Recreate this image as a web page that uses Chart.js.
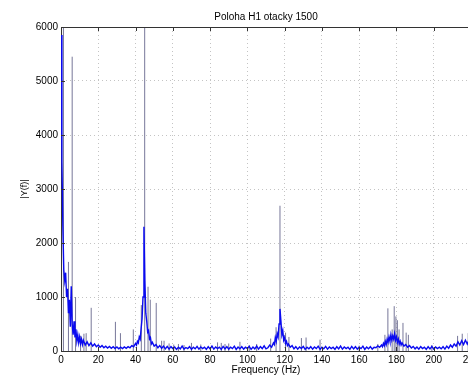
<!DOCTYPE html>
<html>
<head>
<meta charset="utf-8">
<script src="https://cdn.jsdelivr.net/npm/chart.js@4"></script>
<style>
	html, body { margin: 0; padding: 0; background: #fff; overflow: hidden; }
	#wrap { width: 490px; height: 375px; }
</style>
</head>
<body>
<div id="wrap"><canvas id="spectrumChart"></canvas></div>
<script>
// noise floor of the spectrum, frequency (Hz) and |Y(f)|
const floorHz = [
	0, 0.5, 1, 1.5, 2, 2.5, 3, 3.5, 4, 4.5, 5, 5.5, 6, 6.5, 7, 7.5, 8, 8.5, 9, 9.5, 10, 10.5, 11, 11.5, 12,
	13, 14, 15, 16, 17, 18, 19, 20, 21, 22, 23, 24, 25, 26, 27, 28, 29, 30, 31, 32, 33, 34, 35, 36, 37, 38, 39, 40,
	40.5, 41, 41.5, 42, 42.5, 43, 43.5, 44, 44.5, 45, 45.5, 46, 46.5, 47, 47.5, 48, 48.5, 49,
	50, 51, 52, 53, 54, 55, 56, 57, 58, 59, 60, 61, 62, 63, 64, 65, 66, 67, 68, 69, 70, 71, 72, 73, 74, 75, 76, 77, 78, 79,
	80, 81, 82, 83, 84, 85, 86, 87, 88, 89, 90, 91, 92, 93, 94, 95, 96, 97, 98, 99, 100, 101, 102, 103, 104, 105, 106, 107, 108, 109, 110,
	111, 112, 113, 114, 114.5, 115, 115.5, 116, 116.5, 117, 117.5, 118, 118.5, 119, 119.5, 120, 120.5, 121, 121.5, 122, 123, 124,
	125, 126, 127, 128, 129, 130, 131, 132, 133, 134, 135, 136, 137, 138, 139, 140, 141, 142, 143, 144, 145, 146, 147, 148,
	149, 150, 151, 152, 153, 154, 155, 156, 157, 158, 159, 160, 161, 162, 163, 164, 165, 166, 167, 168, 169, 170, 171,
	172, 172.5, 173, 173.5, 174, 174.5, 175, 175.5, 176, 176.5, 177, 177.5, 178, 178.5, 179, 179.5, 180, 180.5, 181, 181.5, 182, 182.5, 183,
	184, 185, 186, 187, 188,
	189, 190, 191, 192, 193, 194, 195, 196, 197, 198, 199, 200, 201, 202, 203, 204, 205, 206, 207, 208,
	209, 210, 211, 212, 213, 214, 215, 216, 217, 218, 219, 220
];
const floorAmp = [
	5850, 3500, 2300, 1500, 1300, 1450, 1000, 1150, 700, 950, 450, 1200, 500, 300, 550, 250, 400, 180, 300, 150, 260, 140, 220, 120, 200,
	110, 170, 100, 150, 90, 130, 80, 110, 70, 100, 60, 90, 55, 85, 50, 80, 45, 75, 40, 70, 45, 75, 50, 80, 60, 100, 80, 140,
	110, 180, 150, 260, 220, 420, 600, 1000, 2300, 1300, 700, 550, 350, 380, 220, 250, 130, 160,
	90, 120, 60, 100, 50, 90, 40, 85, 35, 80, 45, 75, 30, 70, 40, 90, 35, 65, 45, 80, 30, 70, 40, 85, 35, 75, 45, 70, 30, 80,
	40, 90, 35, 75, 45, 70, 30, 85, 40, 80, 35, 70, 45, 90, 30, 75, 40, 80, 35, 70, 45, 85, 30, 75, 40, 90, 35, 80, 45, 95, 40,
	60, 110, 70, 150, 120, 250, 180, 320, 260, 500, 780, 560, 300, 380, 200, 250, 140, 180, 100, 130, 70, 100,
	40, 80, 35, 75, 45, 85, 30, 70, 40, 80, 35, 75, 45, 90, 30, 70, 40, 85, 35, 75, 45, 70, 30, 80,
	40, 90, 35, 75, 45, 70, 30, 85, 40, 80, 35, 70, 45, 90, 30, 75, 40, 80, 35, 70, 60, 95, 70,
	110, 80, 140, 100, 180, 120, 220, 160, 260, 180, 300, 200, 280, 220, 320, 200, 260, 160, 220, 130, 180, 110, 150,
	90, 120, 70, 100, 55,
	85, 40, 75, 35, 80, 45, 70, 30, 80, 40, 85, 35, 75, 45, 70, 40, 80, 35, 90, 50,
	110, 70, 130, 90, 170, 110, 190, 120, 200, 130, 210, 140
];

// narrow single-bin peaks
const spikeHz = [1.3, 4.0, 6.0, 7.8, 10.5, 12.3, 13.5, 16.2, 29.2, 31.9, 38.8, 43.1, 44.9, 46.7, 47.9, 51.1,
	54.0, 55.3, 58, 60.5, 63, 66, 70, 75, 84, 86, 88, 90, 96, 101, 105, 112.5, 115.4, 117.5, 120.5, 122.3,
	129, 131.5, 139, 160, 170, 173.8, 175.4, 177.7, 178.8, 179.7, 180.5, 181.4, 183.5, 185.2, 186.4, 199,
	212.8, 215.3, 218.5];
const spikeAmp = [6200, 1650, 5450, 1000, 280, 320, 330, 800, 540, 330, 400, 850, 6500, 1190, 950, 890,
	190, 190, 140, 120, 130, 110, 150, 120, 160, 150, 130, 140, 170, 110, 130, 230, 440, 2690, 340, 260,
	240, 250, 210, 100, 130, 300, 790, 400, 830, 640, 570, 400, 520, 340, 300, 110,
	280, 320, 330];

const xTicks = [0, 20, 40, 60, 80, 100, 120, 140, 160, 180, 200, 220];
const yTicks = [0, 1000, 2000, 3000, 4000, 5000, 6000];

const FONT = '"Liberation Sans", Arial, sans-serif';

const floorData = floorHz.map((f, i) => ({ x: f, y: floorAmp[i] }));
const spikeData = [];
spikeHz.forEach((f, i) => {
	spikeData.push({ x: f, y: 0 }, { x: f, y: spikeAmp[i] }, { x: f, y: null });
});

// titles, top border and inward MATLAB-style ticks
const matlabFrame = {
	id: 'matlabFrame',
	afterDraw(chart) {
		const ctx = chart.ctx;
		const a = chart.chartArea;
		const xs = chart.scales.x, ys = chart.scales.y;
		ctx.save();
		ctx.strokeStyle = '#333';
		ctx.lineWidth = 1;
		ctx.beginPath();
		ctx.moveTo(a.left, a.top + 0.5);
		ctx.lineTo(a.right, a.top + 0.5);
		xTicks.forEach(v => {
			const px = Math.round(xs.getPixelForValue(v)) + 0.5;
			ctx.moveTo(px, a.top); ctx.lineTo(px, a.top + 4);
			ctx.moveTo(px, a.bottom); ctx.lineTo(px, a.bottom - 4);
		});
		yTicks.forEach(v => {
			const py = Math.round(ys.getPixelForValue(v)) + 0.5;
			ctx.moveTo(a.left, py); ctx.lineTo(a.left + 4, py);
		});
		ctx.stroke();

		ctx.fillStyle = '#000';
		ctx.font = '10px ' + FONT;
		ctx.textAlign = 'center';
		ctx.textBaseline = 'middle';
		ctx.fillText('Poloha H1 otacky 1500', 266, 17);
		ctx.fillText('Frequency (Hz)', 266, 370);
		ctx.translate(25, 189);
		ctx.rotate(-Math.PI / 2);
		ctx.font = '9px ' + FONT;
		ctx.fillText('|Y(f)|', 0, 0);
		ctx.restore();
	}
};

new Chart(document.getElementById('spectrumChart').getContext('2d'), {
	type: 'line',
	data: {
		datasets: [{
			label: 'floor',
			data: floorData,
			borderColor: 'rgb(10, 10, 240)',
			borderWidth: 1.4,
			pointRadius: 0,
			tension: 0
		}, {
			label: 'peaks',
			data: spikeData,
			borderColor: 'rgba(95, 95, 135, 0.85)',
			borderWidth: 1,
			pointRadius: 0,
			spanGaps: false,
			tension: 0
		}]
	},
	options: {
		responsive: true,
		maintainAspectRatio: false,
		animation: false,
		events: [],
		layout: { padding: { left: 0, top: 27, right: 19, bottom: 0 } },
		scales: {
			x: {
				type: 'linear',
				min: 0,
				max: 220,
				afterFit: scale => { scale.height = 24; },
				afterBuildTicks: scale => { scale.ticks = xTicks.map(v => ({ value: v })); },
				ticks: { color: '#000', font: { family: FONT, size: 10 }, padding: 3, maxRotation: 0, autoSkip: false,
					callback: value => String(value) },
				grid: { color: '#c4c4c4', drawTicks: false, lineWidth: 1 },
				border: { display: true, color: '#333', dash: [1, 3] }
			},
			y: {
				min: 0,
				max: 6000,
				afterFit: scale => { scale.width = 61; },
				afterBuildTicks: scale => { scale.ticks = yTicks.map(v => ({ value: v })); },
				ticks: { color: '#000', font: { family: FONT, size: 10 }, padding: 3,
					callback: value => String(value) },
				grid: { color: '#c4c4c4', drawTicks: false, lineWidth: 1 },
				border: { display: true, color: '#333', dash: [1, 3] }
			}
		},
		plugins: {
			legend: { display: false },
			title: { display: false },
			tooltip: { enabled: false }
		}
	},
	plugins: [matlabFrame]
});
</script>
</body>
</html>
